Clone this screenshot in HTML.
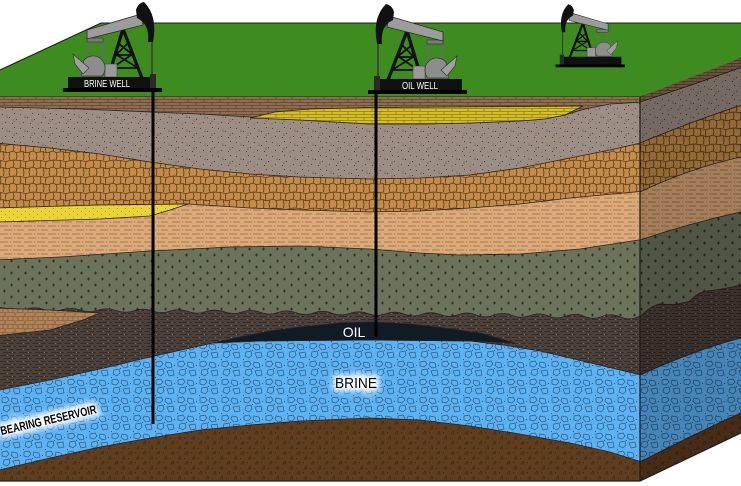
<!DOCTYPE html>
<html><head><meta charset="utf-8"><style>
html,body{margin:0;padding:0;background:#fff;overflow:hidden}
svg{display:block}
text{font-family:"Liberation Sans",sans-serif}
</style></head><body>
<svg width="741" height="486" viewBox="0 0 741 486" xmlns="http://www.w3.org/2000/svg">
<defs>
<pattern id="pBrick" width="16" height="6" patternUnits="userSpaceOnUse"><rect width="16" height="6" fill="#8e6d50"/><path d="M0,0.4H16M0,3.4H16M4,0.4V3.4M12,3.4V6.4" stroke="#5e4532" stroke-width="0.8"/></pattern>
<pattern id="pGray" width="18" height="14" patternUnits="userSpaceOnUse"><rect width="18" height="14" fill="#9d8e85"/><g fill="#4e443f"><rect x="2" y="2" width="1" height="1"/><rect x="9" y="5" width="1" height="1"/><rect x="14" y="1" width="1" height="1"/><rect x="5" y="10" width="1" height="1"/><rect x="12" y="11" width="1" height="1"/><rect x="16" y="7" width="1" height="1"/></g><path d="M6,4H8M6,5.5H8M13,8H15M13,9.5H15M1,12H3" stroke="#6d615a" stroke-width=".6"/></pattern>
<pattern id="pCobble" width="20" height="16" patternUnits="userSpaceOnUse"><rect width="20" height="16" fill="#c38c4a"/><path d="M0,0.5L6,1.5L13,0L20,0.5M0,8L3,7.5L6,9L10,8L13,7L16,8.5L20,8M0,16.5L6,17.5L13,16L20,16.5M6,1.5L5.5,5L6,9M13,0L14,4L13,7M0,0.5L1,4L0,8M20,0.5L21,4L20,8M3,7.5L4,12L3.5,16.8M10,8L9,12L10,17M16,8.5L17,12L16,16.3" stroke="#5b3a1a" stroke-width="0.8" fill="none"/></pattern>
<pattern id="pTan" width="24" height="8" patternUnits="userSpaceOnUse"><rect width="24" height="8" fill="#dcaa78"/><path d="M0,2H8M10,2H11M13,2H21M4,6H12M14,6H15M17,6H24" stroke="#96694a" stroke-width="0.7"/></pattern>
<pattern id="pGreen" width="14" height="12" patternUnits="userSpaceOnUse"><rect width="14" height="12" fill="#6b735a"/><path d="M3,3H6M4.5,1.5V4.5M10,9H13M11.5,7.5V10.5" stroke="#1f231a" stroke-width="0.7"/></pattern>
<pattern id="pDark" width="16" height="6" patternUnits="userSpaceOnUse"><rect width="16" height="6" fill="#4c403b"/><path d="M0,1.5H6M9,1.5H14M3,4.5H11M13,4.5H16" stroke="#2f2622" stroke-width="0.8"/><rect x="7" y="1" width="1" height="1" fill="#7a6a60"/><rect x="12" y="4" width="1" height="1" fill="#7a6a60"/></pattern>
<pattern id="pBlue" width="22" height="18" patternUnits="userSpaceOnUse"><rect width="22" height="18" fill="#5db2f4"/><path d="M2,2L7,1L9,4L6,7L2,6Z M12,2L17,3L18,7L14,8L11,5Z M4,10L9,9L10,13L7,16L3,14Z M13,11L19,10L20,15L15,16Z" stroke="#2c5a82" stroke-width="0.7" fill="none"/><g fill="#2c5a82"><rect x="10" y="8" width="1" height="1"/><rect x="20" y="5" width="1" height="1"/><rect x="1" y="17" width="1" height="1"/></g></pattern>
<pattern id="pBrown" width="14" height="10" patternUnits="userSpaceOnUse"><rect width="14" height="10" fill="#5f3d1f"/><path d="M3,4L5,1L6,4Z M10,9L12,6L13,9Z" stroke="#3c2612" stroke-width="0.6" fill="none"/><rect x="9" y="2" width="1" height="1" fill="#3c2612"/><rect x="2" y="8" width="1" height="1" fill="#3c2612"/></pattern>
<pattern id="pYel" width="16" height="6" patternUnits="userSpaceOnUse"><rect width="16" height="6" fill="#d6bf25"/><path d="M0,0.4H16M0,3.4H16M4,0.4V3.4M12,3.4V6.4" stroke="#8d7d13" stroke-width="0.8"/></pattern>
<pattern id="pYel2" width="8" height="6" patternUnits="userSpaceOnUse"><rect width="8" height="6" fill="#e9d535"/><rect x="1" y="1" width="1" height="1" fill="#b09a1c"/><rect x="5" y="4" width="1" height="1" fill="#b09a1c"/></pattern>
<pattern id="pOrange" width="10" height="8" patternUnits="userSpaceOnUse"><rect width="10" height="8" fill="#b2855b"/><path d="M0,0.5L5,1L10,0.5M0,4.5L3,4L7,5L10,4.5M5,1V4M3,4V8M8,5V8" stroke="#6f4c2c" stroke-width="0.6" fill="none"/></pattern>
<clipPath id="front"><rect x="0" y="97" width="640" height="384"/></clipPath>
<clipPath id="right"><polygon points="640,97 741,58 741,433 640,481"/></clipPath>
<filter id="glow" x="-30%" y="-80%" width="160%" height="260%"><feGaussianBlur stdDeviation="2.8"/></filter>
<g id="pj">
 <path d="M378,40 V80" stroke="#333" stroke-width="1.3"/>
 <path d="M407,31 L388,80 M407,31 L422,80" stroke="#111" stroke-width="3.2" fill="none"/>
 <path d="M397,57 L415,57 M392,70 L419,70 M402,45 L414,57 M399,57 L418,70 M412,45 L397,57 M413,57 L392,70" stroke="#111" stroke-width="1.8"/>
 <path d="M428,67 V42 H442 V67" stroke="#6a6a6a" stroke-width="1.6" fill="none"/>
 <rect x="427" y="40" width="16" height="4" fill="#7a7a7a" stroke="#333" stroke-width=".6"/>
 <rect x="413" y="66" width="12" height="13" fill="#9a9a9a" stroke="#444" stroke-width=".6"/>
 <path d="M428,78 A11,11 0 0 1 446,62 L449,78 Z" fill="#8d8d8d" stroke="#333" stroke-width=".7"/>
 <path d="M441,70 L457,56 L455,66 L447,76 Z" fill="#a0a0a0" stroke="#333" stroke-width=".7"/>
 <path d="M389,16 L443,32 L443,41 L387,27 Z" fill="#9c9c9c" stroke="#2a2a2a" stroke-width=".8"/>
 <path d="M386,4 Q372,18 377,44 L382,44 Q380,26 393,20 L394,12 Q392,5 386,4 Z" fill="#111"/>
 <rect x="380" y="79" width="82" height="12" fill="#111"/>
 <rect x="368" y="90" width="99" height="4" fill="#000"/>
 <rect x="374" y="76" width="6" height="14" fill="#2a2a2a"/>
</g>
</defs>

<rect width="741" height="486" fill="#fff"/>

<!-- green top surface -->
<path d="M0,70 L101,23 L741,23 L741,58 Q700,78 640,97 L0,97 Z" fill="#3e8c1f"/>
<path d="M0,70 L101,23 L741,23 M741,58 Q700,78 640,97 L0,97" stroke="#1c1c1c" stroke-width="1.1" fill="none"/>

<!-- front face -->
<g clip-path="url(#front)" stroke="#2b2220" stroke-width="0.8">
 <rect x="-5" y="95" width="650" height="395" fill="url(#pBrick)" stroke="none"/>
 <path d="M-5,107 L80,109 L150,112 L200,114 L250,117 L300,120 L370,124 L420,124 L470,123 L520,121 L545,119 L565,115 L585,109 L610,104 L645,102 L645,490 L-5,490 Z" fill="url(#pGray)"/>
 <path d="M250,118 L275,112 L310,109 L370,107.5 L450,107 L583,106 L565,115 L545,119 L520,121 L470,123 L420,124 L370,124 L300,120 Z" fill="url(#pYel)"/>
 <path d="M-5,143 L50,148 L100,154 L150,162 L200,169 L250,174 L300,177 L370,179 L420,178 L470,175 L520,168 L570,158 L610,150 L645,142 V490 H-5 Z" fill="url(#pCobble)"/>
 <path d="M-5,208 L100,205 L188,204 L250,208 L300,210 L370,212 L420,211 L470,208 L520,204 L570,198 L645,191 V490 H-5 Z" fill="url(#pTan)"/>
 <path d="M-5,208 L100,205 L188,204 L170,210 L150,216 L100,219 L-5,222 Z" fill="url(#pYel2)"/>
 <path d="M-5,260 L60,257 L150,251 L230,247 L300,246 L370,249 L420,253 L460,255 L520,254 L580,249 L645,239 V490 H-5 Z" fill="url(#pGreen)"/>
 <path d="M-10,309 Q-1,306 8,309.1 T26,309.3 T44,309.6 T62,309.8 T80,310 T98,310.2 T116,310.5 T134,310.7 T152,310.9 T170,311.1 T188,311.4 T206,311.6 T224,311.8 T242,312 T260,312.3 T278,312.5 T296,312.7 T314,312.9 T332,313.2 T350,313.4 T368,313.6 T386,313.8 T404,314.1 T422,314.3 T440,314.5 T458,314.7 T476,315 T494,315.2 T512,315.4 T530,315.6 T548,315.9 T566,316.1 T584,316.3 T602,316.5 T620,316.8 T638,317 T656,317.2 V490 H-10 Z" fill="url(#pDark)"/>
 <path d="M-5,308 L50,310 L100,313 L83,320 L50,330 L-5,336 Z" fill="url(#pOrange)"/>
 <path d="M-5,391 L50,380 L100,369 L150,357 L213,343 L260,341 L370,340 L470,341 L503,345 L540,351 L570,358 L645,376 V490 H-5 Z" fill="url(#pBlue)"/>
 <path d="M213,343 L240,337 L270,331 L300,327 L340,323 L370,322 L410,324 L437,327 L480,333 L515,343 L470,341 L370,340 L260,341 Z" fill="#111b24"/>
 <path d="M-5,471 L50,458 L100,447 L150,438 L200,430 L250,425 L300,421 L370,418 L420,420 L470,426 L520,434 L570,443 L610,452 L645,463 V490 H-5 Z" fill="url(#pBrown)"/>
</g>

<!-- right face -->
<g clip-path="url(#right)" stroke="#2b2220" stroke-width="0.8">
 <rect x="635" y="50" width="110" height="450" fill="url(#pBrick)" stroke="none"/>
 <path d="M640,102 Q690,86 745,66 V500 H635 Z" fill="url(#pGray)"/>
 <path d="M640,143 Q690,122 745,104 V500 H635 Z" fill="url(#pCobble)"/>
 <path d="M640,192 Q690,168 745,156 V500 H635 Z" fill="url(#pTan)"/>
 <path d="M640,240 Q690,223 745,211 V500 H635 Z" fill="url(#pGreen)"/>
 <path d="M640,317 Q650,306 660,304 Q675,306 690,301 Q698,292 707,291 Q725,289 745,284 V500 H635 Z" fill="url(#pDark)"/>
 <path d="M640,375 Q700,348 745,337 V500 H635 Z" fill="url(#pBlue)"/>
 <path d="M640,462 Q690,436 745,411 V500 H635 Z" fill="url(#pBrown)"/>
 <rect x="635" y="50" width="110" height="450" fill="#000" opacity="0.25" stroke="none"/>
</g>

<!-- edges -->
<path d="M640,97 V481 M0,481 H640 L741,433" stroke="#1a1a1a" stroke-width="1.2" fill="none"/>

<!-- pipes -->
<line x1="153" y1="88" x2="153" y2="424" stroke="#000" stroke-width="3"/>
<line x1="376" y1="90" x2="376" y2="337" stroke="#000" stroke-width="3"/>

<!-- pumpjacks -->
<use href="#pj"/>
<use href="#pj" transform="translate(530,-2) scale(-1,1)"/>
<use href="#pj" transform="translate(298,1.5) scale(0.7)"/>
<text x="107" y="87" font-size="10" fill="#fff" text-anchor="middle" textLength="46" lengthAdjust="spacingAndGlyphs">BRINE WELL</text>
<text x="420" y="89" font-size="10" fill="#fff" text-anchor="middle" textLength="36" lengthAdjust="spacingAndGlyphs">OIL WELL</text>

<!-- labels -->
<text x="354" y="337" font-size="14" fill="#fff" text-anchor="middle">OIL</text>
<g filter="url(#glow)">
 <text x="356" y="388" font-size="15" fill="#fff" stroke="#fff" stroke-width="6" text-anchor="middle" textLength="42" lengthAdjust="spacingAndGlyphs">BRINE</text>
</g>
<text x="356" y="388" font-size="15" fill="#000" text-anchor="middle" textLength="42" lengthAdjust="spacingAndGlyphs">BRINE</text>
<g transform="translate(97,413) rotate(-13)">
 <g filter="url(#glow)">
  <text x="0" y="0" font-size="12" font-weight="bold" fill="#fff" stroke="#fff" stroke-width="7" text-anchor="end" textLength="98" lengthAdjust="spacingAndGlyphs">BEARING RESERVOIR</text>
 </g>
 <text x="0" y="0" font-size="12" font-weight="bold" fill="#000" text-anchor="end" textLength="98" lengthAdjust="spacingAndGlyphs">BEARING RESERVOIR</text>
</g>
</svg>
</body></html>
